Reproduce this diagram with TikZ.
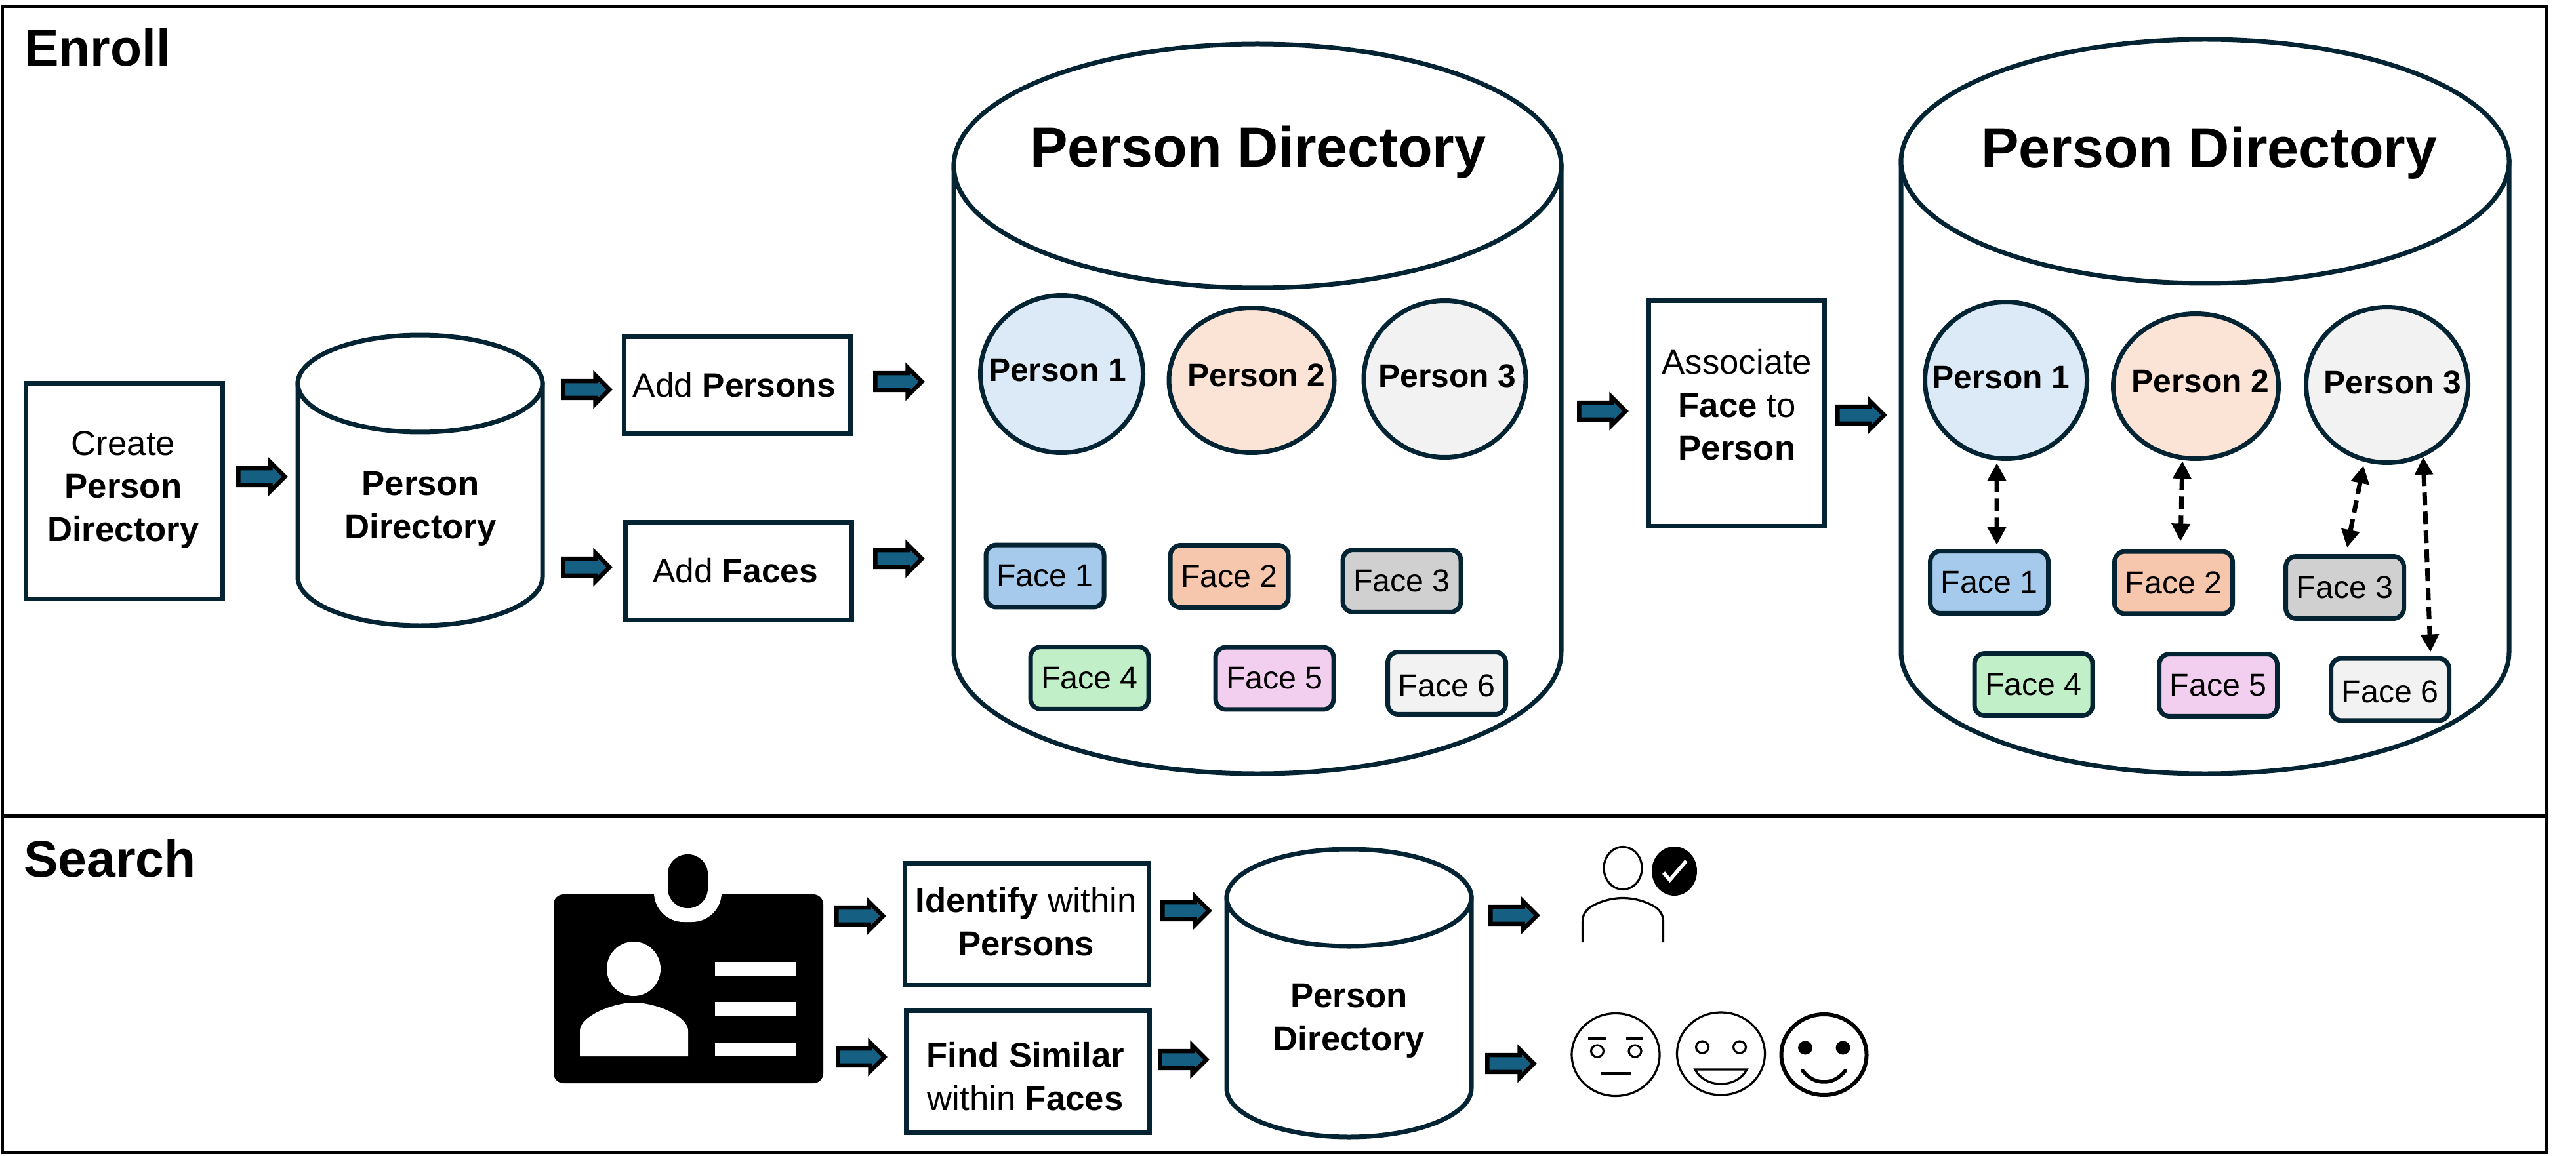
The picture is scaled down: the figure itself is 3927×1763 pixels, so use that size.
\documentclass[tikz,border=0pt]{standalone}
\usepackage{fontspec}
\setmainfont{Liberation Sans}
\usetikzlibrary{shapes.geometric,shapes.arrows,arrows.meta,calc}
\newcommand\pxu{0.02cm}
\definecolor{navy}{HTML}{042433}
\definecolor{arblue}{HTML}{156082}
\definecolor{pone}{HTML}{DCE9F6}
\definecolor{ptwo}{HTML}{FBE3D6}
\definecolor{pthree}{HTML}{F2F2F2}
\definecolor{fone}{HTML}{A6CAEC}
\definecolor{ftwo}{HTML}{F6C6AD}
\definecolor{fthree}{HTML}{D0D0D0}
\definecolor{ffour}{HTML}{C1F0C8}
\definecolor{ffive}{HTML}{F2CEEF}
\definecolor{fsix}{HTML}{F2F2F2}
\tikzset{
  frameline/.style={draw=black,line width=0.1cm},
  cylline/.style={draw=navy,line width=0.14cm},
  boxn/.style={rectangle,draw=navy,line width=0.14cm,inner sep=0pt,outer sep=0pt},
  pers/.style={ellipse,draw=navy,line width=0.14cm,inner sep=0pt,outer sep=0pt},
  facen/.style={rectangle,rounded corners=0.32cm,draw=navy,line width=0.14cm,inner sep=0pt,outer sep=0pt,
     minimum width=3.6cm,minimum height=1.9cm,font=\fontsize{27.5}{32}\selectfont},
  facelow/.style={facen,text height=0.8cm,text depth=0pt},
  bigt/.style={anchor=base,inner sep=0pt,font=\fontsize{49.1}{58}\selectfont\bfseries},
  sect/.style={anchor=base west,inner sep=0pt,font=\fontsize{44.8}{50}\selectfont\bfseries},
  medt/.style={anchor=north,align=center,inner sep=0pt,yshift=-0.2cm,font=\fontsize{30}{37.3}\selectfont,
     execute at begin node={\rule{0pt}{0.9cm}}},
  addt/.style={medt,font=\fontsize{29.3}{37.3}\selectfont},
  ptxt/.style={anchor=base,inner sep=0pt,font=\fontsize{28.3}{32}\selectfont\bfseries},
  blockar/.style={single arrow,draw=black,fill=arblue,line width=0.13cm,inner xsep=0pt,inner ysep=0.194cm,
     outer sep=0pt,single arrow head extend=0.176cm,minimum height=1.42cm,anchor=tail},
  dbl/.style={black,line width=0.14cm,dash pattern=on 0.38cm off 0.2cm,
     {Triangle[length=0.54cm,width=0.54cm]}-{Triangle[length=0.54cm,width=0.54cm]}},
  thinface/.style={draw=black,line width=0.064cm},
}
\newcommand\cylnode[6]{%
  \draw[cylline,fill=white] (#2-#5,#3) -- (#2-#5,#4)
     arc[start angle=180,end angle=360,x radius=#5*\pxu,y radius=#6*\pxu] -- (#2+#5,#3) -- cycle;
  \node[ellipse,cylline,fill=white,inner sep=0pt,outer sep=0pt,minimum width=2*#5*\pxu,minimum height=2*#6*\pxu] (#1) at (#2,#3) {};
}
\newcommand\blockarr[3]{\node[blockar] (#1) at (#2+3.25,#3) {};}
\begin{document}
\begin{tikzpicture}[x=0.02cm,y=-0.02cm]
\useasboundingbox (0,0) rectangle (3927,1763);
% frame
\draw[frameline] (4,9.5) rectangle (3882,1757.5);
\coordinate (sepl) at (4,1244.5);
\coordinate (sepr) at (3882,1244.5);
\draw[frameline] (sepl) -- (sepr);
\node[sect] (enroll) at (37,101) {Enroll};
\node[sect] (search) at (36,1337) {Search};
% Enroll left
\node[boxn,minimum width=299*\pxu,minimum height=329*\pxu] (create) at (189.5,748.5) {};
\node[medt] (createt) at (188,692-45) {Create\\\textbf{Person}\\\textbf{Directory}};
\blockarr{a1}{360}{727}
\cylnode{cyla}{640.5}{585}{880}{186.5}{74}
\node[medt] (cylat) at (641,754-45) {\textbf{Person}\\\textbf{Directory}};
\blockarr{a2}{855}{594}
\blockarr{a3}{855}{865}
\node[boxn,minimum width=345*\pxu,minimum height=148*\pxu] (addp) at (1124,587.5) {};
\node[addt] (addpt) at (1119.5,603-52.5) {Add \textbf{Persons}};
\node[boxn,minimum width=345*\pxu,minimum height=149*\pxu] (addf) at (1126,871) {};
\node[addt] (addft) at (1121,886-52.5) {Add \textbf{Faces}};
\blockarr{a4}{1331}{582}
\blockarr{a5}{1331}{852}
% big cylinder 1
\cylnode{cylb}{1917}{253}{994}{463}{186}
\node[bigt] (cylbt) at (1918,255) {Person Directory};
\node[pers,fill=pone,minimum width=248*\pxu,minimum height=240*\pxu] (bp1) at (1618.5,570.5) {};
\node[pers,fill=ptwo,minimum width=252*\pxu,minimum height=221*\pxu] (bp2) at (1908,580) {};
\node[pers,fill=pthree,minimum width=247*\pxu,minimum height=239*\pxu] (bp3) at (2202.5,578) {};
\node[ptxt] (bp1t) at (1612,581) {Person 1};
\node[ptxt] (bp2t) at (1915.5,589) {Person 2};
\node[ptxt] (bp3t) at (2206.5,590) {Person 3};
\node[facen,fill=fone] (bf1) at (1593,878.5) {Face 1};
\node[facen,fill=ftwo] (bf2) at (1874,879) {Face 2};
\node[facen,fill=fthree] (bf3) at (2137,886) {Face 3};
\node[facen,fill=ffour] (bf4) at (1661,1034) {Face 4};
\node[facen,fill=ffive] (bf5) at (1943,1034.5) {Face 5};
\node[facelow,fill=fsix] (bf6) at (2205.5,1042) {Face 6};
\blockarr{a6}{2404}{627}
\node[boxn,minimum width=268*\pxu,minimum height=344*\pxu] (assoc) at (2647.5,630.5) {};
\node[medt] (assoct) at (2648,567-45) {Associate\\\textbf{Face} to\\\textbf{Person}};
\blockarr{a7}{2798}{633}
% big cylinder 2
\cylnode{cylc}{3361.5}{246}{994}{463.5}{186}
\node[bigt] (cylct) at (3368,256) {Person Directory};
\node[pers,fill=pone,minimum width=247*\pxu,minimum height=239*\pxu] (cp1) at (3058,580) {};
\node[pers,fill=ptwo,minimum width=252*\pxu,minimum height=221*\pxu] (cp2) at (3347.5,589) {};
\node[pers,fill=pthree,minimum width=247*\pxu,minimum height=237*\pxu] (cp3) at (3639,587) {};
\node[ptxt] (cp1t) at (3050.5,592) {Person 1};
\node[ptxt] (cp2t) at (3354.5,598) {Person 2};
\node[ptxt] (cp3t) at (3647.5,600) {Person 3};
\node[facen,fill=fone] (cf1) at (3032.5,888) {Face 1};
\node[facen,fill=ftwo] (cf2) at (3313.5,888.5) {Face 2};
\node[facen,fill=fthree] (cf3) at (3574.5,896) {Face 3};
\node[facen,fill=ffour] (cf4) at (3100,1044) {Face 4};
\node[facen,fill=ffive] (cf5) at (3381.5,1045) {Face 5};
\node[facelow,fill=fsix] (cf6) at (3643.5,1051.5) {Face 6};
\draw[dbl] ([shift={(-14,6.5)}]cp1.south) -- ([shift={(11.5,-9.5)}]cf1.north);
\draw[dbl] ([shift={(-20.5,3.5)}]cp2.south) -- ([shift={(10.5,-15.5)}]cf2.north);
\draw[dbl] ([shift={(-36,4.5)}]cp3.south) -- ([shift={(3.5,-13.5)}]cf3.north);
\draw[dbl] ([shift={(55,-8.5)}]cp3.south) -- ([shift={(61.5,-9.5)}]cf6.north);
% Search: badge
\fill[black,rounded corners=0.3cm] (844,1364) rectangle (1255,1652);
\fill[white,rounded corners=0.9cm] (997,1300) rectangle (1100,1406);
\fill[black,rounded corners=0.6cm] (1018,1303) rectangle (1079,1385);
\fill[white] (966,1477.5) ellipse [x radius=41*\pxu,y radius=41.5*\pxu];
\fill[white] (884,1611) -- (884,1572) .. controls (884,1550) and (935,1529) .. (966,1529)
   .. controls (1000,1529) and (1049,1550) .. (1049,1572) -- (1049,1611) -- cycle;
\fill[white] (1090,1467) rectangle (1214,1488);
\fill[white] (1090,1528) rectangle (1214,1549);
\fill[white] (1090,1590) rectangle (1214,1611);
\blockarr{a8}{1272}{1397}
\blockarr{a9}{1274}{1612}
\node[boxn,minimum width=372*\pxu,minimum height=186*\pxu] (ident) at (1565.5,1409.5) {};
\node[medt] (identt) at (1564,1388-45) {\textbf{Identify} within\\\textbf{Persons}};
\node[boxn,minimum width=371*\pxu,minimum height=186*\pxu] (finds) at (1567,1634.5) {};
\node[medt] (findst) at (1563,1624-45) {\textbf{Find Similar}\\within \textbf{Faces}};
\blockarr{a10}{1769}{1389}
\blockarr{a11}{1765}{1616}
\cylnode{cyld}{2056.5}{1369}{1660}{186.5}{74}
\node[medt] (cyldt) at (2056.5,1535-45) {\textbf{Person}\\\textbf{Directory}};
\blockarr{a12}{2269}{1396}
\blockarr{a13}{2264}{1622}
% person with check
\draw[thinface] (2474,1324) ellipse [x radius=29*\pxu,y radius=32.5*\pxu];
\draw[thinface] (2412.5,1437) -- (2412.5,1405) .. controls (2412.5,1395) and (2418,1388) .. (2425,1383)
   .. controls (2440,1374) and (2458,1369.5) .. (2474,1369.5)
   .. controls (2490,1369.5) and (2508,1374) .. (2523,1383)
   .. controls (2530,1388) and (2535.5,1395) .. (2535.5,1405) -- (2535.5,1437);
\fill[black] (2552.5,1328.5) ellipse [x radius=34.5*\pxu,y radius=37.5*\pxu];
\draw[white,line width=0.11cm] (2536,1331) -- (2545.5,1342) -- (2570.5,1313);
% faces
\draw[thinface] (2463,1608.5) ellipse [x radius=67*\pxu,y radius=63*\pxu];
\draw[thinface] (2421,1584) -- (2448,1584);
\draw[thinface] (2479,1584) -- (2505,1584);
\draw[thinface] (2435,1603) ellipse [x radius=9.5*\pxu,y radius=9*\pxu];
\draw[thinface] (2492.5,1603) ellipse [x radius=9.5*\pxu,y radius=9*\pxu];
\draw[thinface] (2441,1637) -- (2487,1637);
\draw[thinface] (2623.5,1607) ellipse [x radius=67*\pxu,y radius=63*\pxu];
\draw[thinface] (2595,1597) ellipse [x radius=9.5*\pxu,y radius=9*\pxu];
\draw[thinface] (2652,1597) ellipse [x radius=9.5*\pxu,y radius=9*\pxu];
\draw[thinface] (2584,1631) -- (2663,1631) .. controls (2655,1646) and (2640,1653) .. (2623.5,1653)
   .. controls (2607,1653) and (2592,1646) .. (2584,1631) -- cycle;
\draw[draw=black,line width=0.12cm] (2780.5,1608.5) ellipse [x radius=65*\pxu,y radius=61.5*\pxu];
\fill[black] (2752,1598) ellipse [x radius=11*\pxu,y radius=10.5*\pxu];
\fill[black] (2809.5,1598) ellipse [x radius=11*\pxu,y radius=10.5*\pxu];
\draw[black,line width=0.11cm,line cap=round] (2748,1633) .. controls (2758,1645) and (2768,1650) .. (2780.5,1650)
   .. controls (2793,1650) and (2803,1645) .. (2813,1633);
\end{tikzpicture}
\end{document}
